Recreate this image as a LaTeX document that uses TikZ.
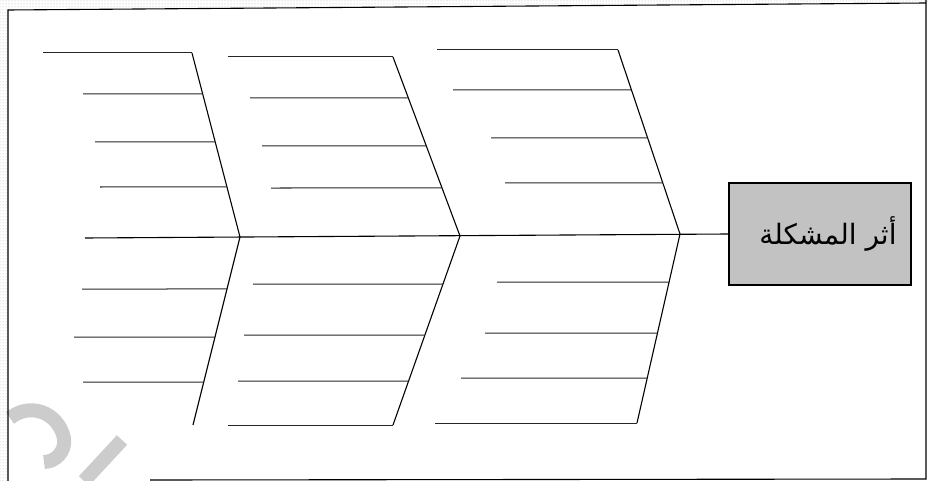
\documentclass[tikz,border=0pt]{standalone}
\usepackage{fontspec}
\newfontfamily\arabicfont[Script=Arabic]{DejaVu Sans}
\TeXXeTstate=1
\usetikzlibrary{calc,patterns}
\begin{document}
\begin{tikzpicture}[x=1pt,y=-1pt,
  bone/.style={line width=1.1pt,black},
  branch/.style={line width=1pt,black!85},
  frame/.style={line width=1.1pt,black},
  wmark/.style={line width=14pt,gray!40,line cap=butt},
  effectbox/.style={draw=black,line width=1.2pt,fill=black!24,minimum width=182pt,minimum height=102pt,inner sep=0pt}]
\useasboundingbox (0,0) rectangle (928,481);
% scan border
\fill[pattern=dots,pattern color=gray!60] (0,0) -- (928,0) -- (928,3) -- (8,10) -- (8,481) -- (0,481) -- cycle;
% watermark fragment
\draw[wmark] (10,418) .. controls (30,402) and (58,412) .. (64,438) .. controls (66,452) and (55,462) .. (44,462);
\draw[wmark] (122,440) -- (84,481);
% frame
\coordinate (ftl) at (8,10);
\coordinate (ftr) at (926,3);
\coordinate (fbl) at (8,481);
\coordinate (fbr) at (926,479);
\coordinate (fbs) at (150,480);
\coordinate (frt) at (926,0);
\draw[frame] (fbl) -- (ftl) -- (ftr);
\draw[frame] (frt) -- (fbr) -- (fbs);
% effect box
\node[effectbox] (effect) at (820,234) {};
\node (label) at ([xshift=8pt]effect.center) {\arabicfont\fontsize{28}{32}\selectfont\beginR أثر المشكلة\endR};
% spine
\coordinate (tail) at (85,238);
\draw[bone] (tail) -- (effect.west);
% bones
\coordinate (u1t) at (192,53);  \coordinate (u1b) at (240,237);
\coordinate (l1b) at (193,425);
\coordinate (u2t) at (393,57);  \coordinate (u2b) at (460,236);
\coordinate (l2b) at (393,425);
\coordinate (u3t) at (618,50);  \coordinate (u3b) at (680,234);
\coordinate (l3b) at (637,423);
\draw[bone] (u1t) -- (u1b) -- (l1b);
\draw[bone] (u2t) -- (u2b) -- (l2b);
\draw[bone] (u3t) -- (u3b) -- (l3b);
% branches: upper bone 1
\foreach \xl/\yy in {43/53,83/94,95/142,100/187}
  \draw[branch] (\xl,\yy) -- ($(u1t)!{(\yy-53)/184}!(u1b)$);
% lower bone 1
\foreach \xl/\yy in {82/289,74/337,83/382}
  \draw[branch] (\xl,\yy) -- ($(u1b)!{(\yy-237)/188}!(l1b)$);
% upper bone 2
\foreach \xl/\yy in {228/57,250/98,262/146,271/188}
  \draw[branch] (\xl,\yy) -- ($(u2t)!{(\yy-57)/179}!(u2b)$);
% lower bone 2
\foreach \xl/\yy in {253/284,244/335,238/381,228/425}
  \draw[branch] (\xl,\yy) -- ($(u2b)!{(\yy-236)/189}!(l2b)$);
% upper bone 3
\foreach \xl/\yy in {437/50,453/90,491/138,505/183}
  \draw[branch] (\xl,\yy) -- ($(u3t)!{(\yy-50)/184}!(u3b)$);
% lower bone 3
\foreach \xl/\yy in {497/282,485/333,461/378,435/423}
  \draw[branch] (\xl,\yy) -- ($(u3b)!{(\yy-234)/189}!(l3b)$);
\end{tikzpicture}
\end{document}
